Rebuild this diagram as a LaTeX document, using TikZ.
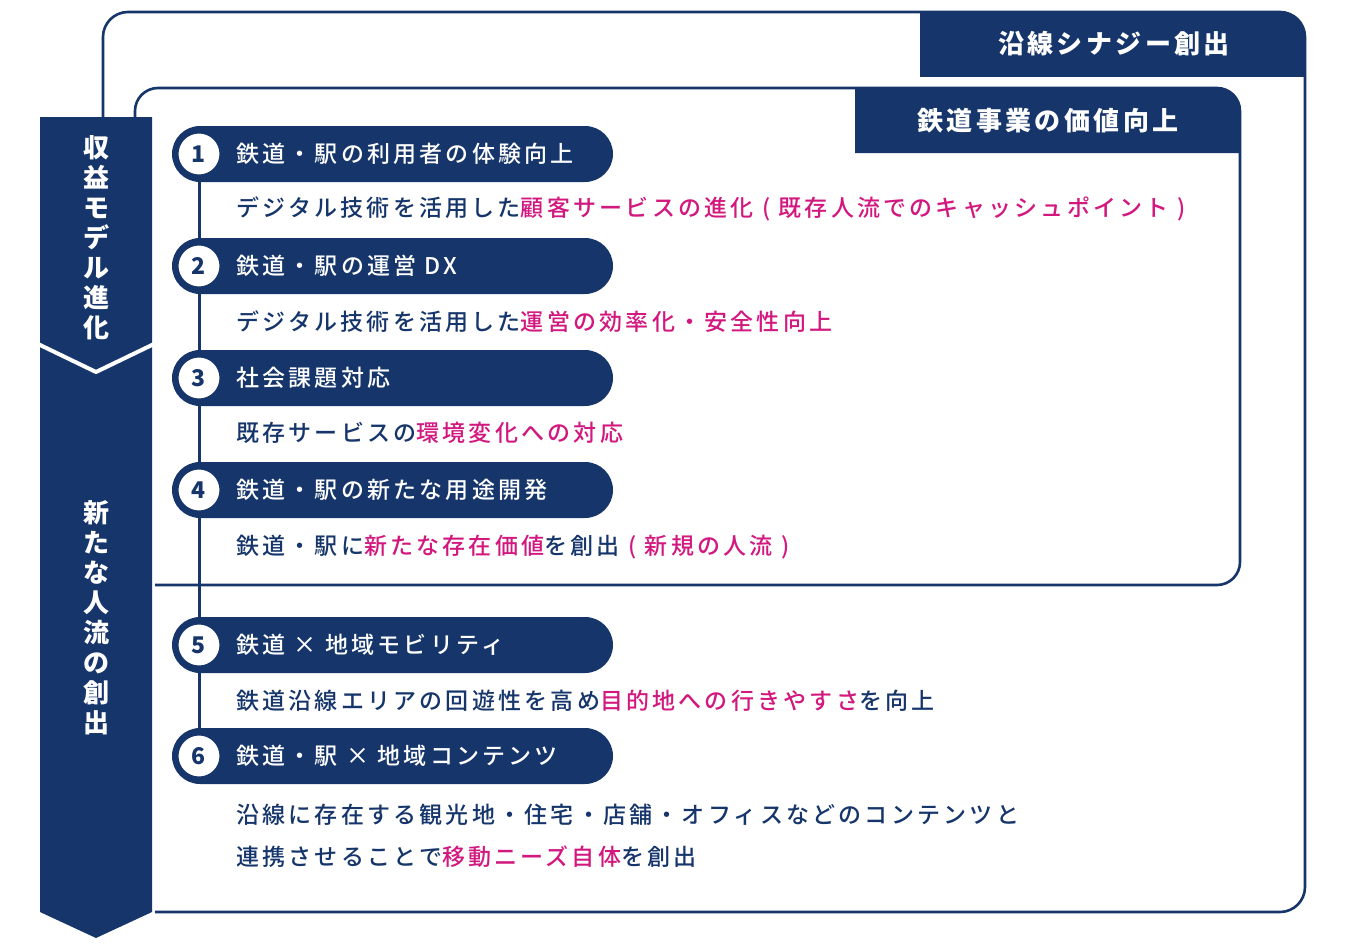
\documentclass[tikz,border=0pt]{standalone}
\usepackage{fontspec}
\setmainfont{Noto Sans CJK JP}
\newfontfamily\jpplain{Noto Sans CJK JP}
\newfontfamily\jpsp{Noto Sans CJK JP}[LetterSpace=14, UprightFont={* Medium}]
\newfontfamily\jptab{Noto Sans CJK JP}[LetterSpace=13]
\definecolor{navy}{HTML}{15356B}
\definecolor{pinkc}{HTML}{D2187E}
\newcommand\myBody{\jpsp\fontsize{23pt}{27pt}\selectfont}
\newcommand\myNum{\jpplain\bfseries\fontsize{23pt}{27pt}\selectfont}
\newcommand\myTab{\jptab\bfseries\fontsize{26pt}{30pt}\selectfont}
\newcommand\myCol{\jpplain\bfseries\fontsize{26pt}{30pt}\selectfont}
\newcommand\pk[1]{\textcolor{pinkc}{#1}}
\begin{document}
\begin{tikzpicture}[x=1pt,y=1pt,
  boxline/.style={draw=navy, line width=2.6pt},
  pill/.style={fill=navy, rounded corners=28pt, minimum width=441pt, minimum height=56pt, inner sep=0pt},
  numcirc/.style={circle, fill=white, draw=navy, line width=3pt, minimum size=44pt, inner sep=0pt, font=\myNum, text=navy, text height=16.8pt, text depth=0pt},
  pilltext/.style={anchor=west, inner sep=0pt, text=white, font=\myBody, text height=20.2pt, text depth=2.8pt},
  desc/.style={anchor=west, inner sep=0pt, text=navy, font=\myBody, text height=20.2pt, text depth=2.8pt},
  tabtext/.style={inner sep=0pt, text=white, font=\myTab, text height=22.9pt, text depth=3.1pt},
  colchar/.style={inner sep=0pt, text=white, font=\myCol, text height=22.9pt, text depth=3.1pt},
  link/.style={draw=navy, line width=3pt}
]
\fill[white] (0,0) rectangle (1350,-950);
\useasboundingbox (0,0) rectangle (1350,-950);

% outer frame
\draw[boxline, rounded corners=25pt] (103,-117) -- (103,-12) -- (1305,-12) -- (1305,-912) -- (155,-912);
\fill[navy] (920,-77) -- (920,-12) -- (1280,-12) arc[start angle=90,end angle=0,radius=25] -- (1305,-77) -- cycle;
\node[tabtext] (tabouter) at (1114,-44) {沿線シナジー創出};

% inner frame
\draw[boxline, rounded corners=23pt] (135,-117) -- (135,-88) -- (1240,-88) -- (1240,-585) -- (155,-585);
\fill[navy] (855,-153) -- (855,-88) -- (1217,-88) arc[start angle=90,end angle=0,radius=23] -- (1240,-153) -- cycle;
\node[tabtext] (tabinner) at (1048,-121) {鉄道事業の価値向上};

% left column arrow
\fill[navy] (40,-117) -- (152,-117) -- (152,-912) -- (96,-938) -- (40,-912) -- cycle;
\draw[white, line width=4pt, line join=miter] (38,-344) -- (96,-372) -- (154,-344);
\foreach \c [count=\i] in {収,益,モ,デ,ル,進,化}
  \node[colchar] (ma\i) at (96,{-148-30*(\i-1)}) {\c};
\foreach \c [count=\i] in {新,た,な,人,流,の,創,出}
  \node[colchar] (mb\i) at (96,{-513-30*(\i-1)}) {\c};

% pills
\foreach \n/\y in {1/154,2/266,3/378,4/490,5/645,6/756}{
  \node[pill] (p\n) at (392.5,-\y) {};
  \node[numcirc] (c\n) at (199,-\y) {\n};
}
\node[pilltext] (t1) at (236,-154) {鉄道・駅の利用者の体験向上};
\node[pilltext] (t2) at (236,-266) {鉄道・駅の運営 DX};
\node[pilltext] (t3) at (236,-378) {社会課題対応};
\node[pilltext] (t4) at (236,-490) {鉄道・駅の新たな用途開発};
\node[pilltext] (t5) at (236,-645) {鉄道 × 地域モビリティ};
\node[pilltext] (t6) at (236,-756) {鉄道・駅 × 地域コンテンツ};

% connectors
\draw[link] (c1.south) -- (c2.north);
\draw[link] (c2.south) -- (c3.north);
\draw[link] (c3.south) -- (c4.north);
\draw[link] (c4.south) -- (c5.north);
\draw[link] (c5.south) -- (c6.north);

% descriptions
\node[desc] (d1) at (236,-208) {デジタル技術を活用した\pk{顧客サービスの進化 ( 既存人流でのキャッシュポイント )}};
\node[desc] (d2) at (236,-322) {デジタル技術を活用した\pk{運営の効率化・安全性向上}};
\node[desc] (d3) at (236,-433) {既存サービスの\pk{環境変化への対応}};
\node[desc] (d4) at (236,-546) {鉄道・駅に\pk{新たな存在価値}を創出 \pk{( 新規の人流 )}};
\node[desc] (d5) at (236,-701) {鉄道沿線エリアの回遊性を高め\pk{目的地への行きやすさ}を向上};
\node[desc] (d6a) at (236,-815) {沿線に存在する観光地・住宅・店舗・オフィスなどのコンテンツと};
\node[desc] (d6b) at (236,-857) {連携させることで\pk{移動ニーズ自体}を創出};
\end{tikzpicture}
\end{document}
